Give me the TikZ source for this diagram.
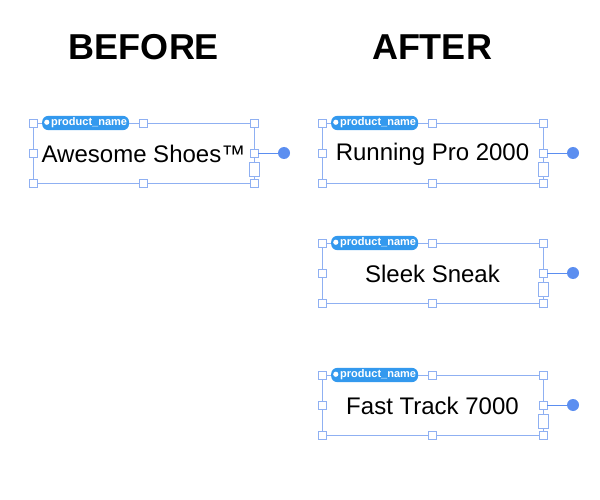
\documentclass[tikz,border=0pt]{standalone}
\usepackage{fontspec}
\setmainfont{Liberation Sans}
\definecolor{sel}{HTML}{8FB0F2}
\definecolor{pill}{HTML}{3399EE}
\definecolor{dotc}{HTML}{5B8EF0}
\tikzset{
  frame/.style={draw=sel, line width=0.9pt},
  handle/.style={draw=sel, fill=white, line width=0.7pt, minimum size=8pt, inner sep=0pt},
  pilltag/.style={fill=pill, rounded corners=6pt, text=white, font=\bfseries\fontsize{11}{12}\selectfont, minimum height=14pt, inner sep=2pt},
  conn/.style={draw=dotc, line width=0.9pt},
  title/.style={font=\bfseries\fontsize{36}{40}\selectfont},
  body/.style={font=\fontsize{24}{28}\selectfont}
}
\newcommand\prodbox[4]{%
  \coordinate (#1tl) at (#2,#3);
  \coordinate (#1br) at (#2+221,#3+60);
  \draw[frame] (#1tl) rectangle (#1br);
  \node[body] (#1txt) at (#2+110.5,#3+31) {#4};
  \foreach \px/\py/\nm in {0/0/a,110.5/0/b,221/0/c,0/30/d,221/30/e,0/60/f,110.5/60/g,221/60/h}
    \node[handle] (#1h\nm) at (#2+\px,#3+\py) {};
  \node[draw=sel, fill=white, line width=0.7pt, minimum width=10pt, minimum height=14pt, inner sep=0pt] (#1sq) at (#2+221,#3+46) {};
  \node[pilltag, anchor=west] (#1tag) at (#2+9,#3) {\raisebox{1pt}{\tikz\fill[white] circle (2.6pt);}\,product\_name};
  \node[circle, fill=dotc, minimum size=12pt, inner sep=0pt] (#1dot) at (#2+251,#3+30) {};
  \draw[conn] (#1he) -- (#1dot);
}
\begin{document}
\begin{tikzpicture}[x=1pt,y=-1pt]
\useasboundingbox (0,0) rectangle (600,500);
\node[title] (before) at (144,47) {BEFORE};
\node[title] (after) at (432,47) {AFTER};
\prodbox{p}{33}{123}{Awesome Shoes™}
\prodbox{q}{322}{123}{Running Pro 2000}
\prodbox{r}{322}{243}{Sleek Sneak}
\prodbox{s}{322}{375}{Fast Track 7000}
\end{tikzpicture}
\end{document}
